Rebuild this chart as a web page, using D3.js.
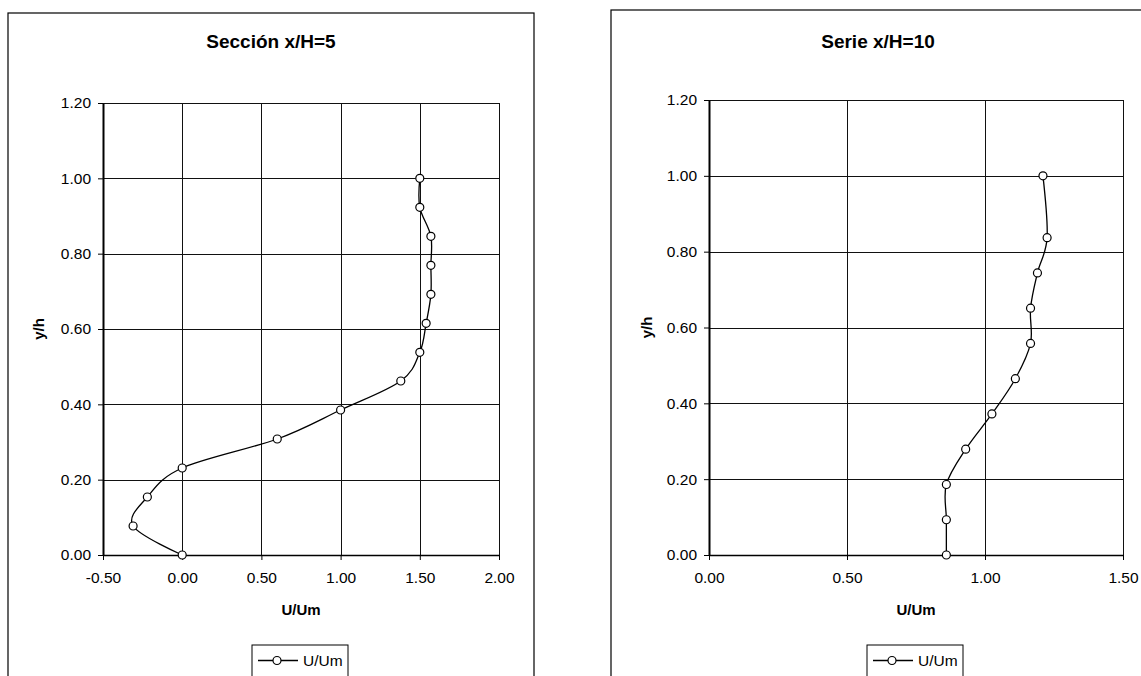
<!DOCTYPE html>
<html lang="es">
<head>
  <meta charset="UTF-8">
  <title>Perfiles U/Um</title>
  <script src="https://d3js.org/d3.v7.min.js"></script>
  <style>
    body {
      margin: 0;
      background: #fff;
      font-family: "Liberation Sans", Arial, sans-serif;
    }
    .chart-title {
      font-size: 19px;
      font-weight: bold;
      text-anchor: middle;
    }
    .axis-title {
      font-size: 15px;
      font-weight: bold;
      text-anchor: middle;
    }
    .axis text {
      font-size: 15.5px;
      font-family: "Liberation Sans", Arial, sans-serif;
      fill: #000;
    }
    .grid line {
      stroke: #111;
      stroke-width: 1;
      shape-rendering: crispEdges;
    }
    .legend-text {
      font-size: 15.5px;
    }
  </style>
</head>
<body>
  <div id="chart"></div>

  <script>
    // Sección x/H=5
    const leftTitle = "Sección x/H=5";
    const leftYh = [0.00, 0.077, 0.154, 0.231, 0.308, 0.385, 0.462, 0.538, 0.615, 0.692, 0.769, 0.846, 0.923, 1.00];
    const leftU = [0.00, -0.31, -0.22, 0.00, 0.60, 1.00, 1.38, 1.50, 1.54, 1.57, 1.57, 1.57, 1.50, 1.50];
    const leftXTicks = [-0.5, 0, 0.5, 1.0, 1.5, 2.0];

    // Serie x/H=10
    const rightTitle = "Serie x/H=10";
    const rightYh = [0.00, 0.093, 0.186, 0.279, 0.372, 0.465, 0.558, 0.651, 0.744, 0.837, 1.00];
    const rightU = [0.86, 0.86, 0.86, 0.93, 1.025, 1.11, 1.165, 1.165, 1.19, 1.225, 1.21];
    const rightXTicks = [0, 0.5, 1.0, 1.5];

    const yTicks = [0, 0.2, 0.4, 0.6, 0.8, 1.0, 1.2];
    const xLabel = "U/Um";
    const yLabel = "y/h";
    const seriesName = "U/Um";

    // format Excel : 2 décimales, tiret simple pour le signe moins
    const fmt = d => d.toFixed(2);

    const svg = d3.select("#chart").append("svg")
      .attr("width", 1141)
      .attr("height", 676);

    function drawPanel(p) {
      const g = svg.append("g");

      // cadre du graphique
      g.append("rect")
        .attr("x", p.box[0]).attr("y", p.box[1])
        .attr("width", p.box[2]).attr("height", p.box[3])
        .attr("fill", "none").attr("stroke", "#000").attr("stroke-width", 1.2);

      g.append("text")
        .attr("class", "chart-title")
        .attr("x", p.titleX).attr("y", 48)
        .text(p.title);

      const x = d3.scaleLinear().domain(p.xDomain).range([p.left, p.right]);
      const y = d3.scaleLinear().domain([0, 1.2]).range([p.bottom, p.top]);

      // grille
      const grid = g.append("g").attr("class", "grid");
      grid.selectAll(".h").data(yTicks).enter().append("line")
        .attr("x1", p.left).attr("x2", p.right)
        .attr("y1", d => Math.round(y(d)) + 0.5).attr("y2", d => Math.round(y(d)) + 0.5);
      grid.selectAll(".v").data(p.xTicks).enter().append("line")
        .attr("x1", d => Math.round(x(d)) + 0.5).attr("x2", d => Math.round(x(d)) + 0.5)
        .attr("y1", p.top).attr("y2", p.bottom);

      g.append("g")
        .attr("class", "axis")
        .attr("transform", "translate(" + p.left + ",0)")
        .call(d3.axisLeft(y).tickValues(yTicks).tickFormat(fmt)
          .tickSize(5).tickSizeOuter(0).tickPadding(7))
        .call(a => a.select(".domain").attr("stroke-width", 2));

      g.append("g")
        .attr("class", "axis")
        .attr("transform", "translate(0," + p.bottom + ")")
        .call(d3.axisBottom(x).tickValues(p.xTicks).tickFormat(fmt)
          .tickSize(5).tickSizeOuter(0).tickPadding(12))
        .call(a => a.select(".domain").attr("stroke-width", 1.5));

      g.append("text")
        .attr("class", "axis-title")
        .attr("x", (p.left + p.right) / 2).attr("y", 615)
        .text(xLabel);

      g.append("text")
        .attr("class", "axis-title")
        .attr("transform", "translate(" + p.yTitleX + "," + (p.top + p.bottom) / 2 + ") rotate(-90)")
        .text(yLabel);

      const pts = p.u.map((v, i) => [v, p.yh[i]]);

      const line = d3.line()
        .x(d => x(d[0]))
        .y(d => y(d[1]))
        .curve(d3.curveCardinal.tension(0));

      g.append("path")
        .datum(pts)
        .attr("fill", "none")
        .attr("stroke", "#000")
        .attr("stroke-width", 1.3)
        .attr("d", line);

      g.selectAll(".pt").data(pts).enter().append("circle")
        .attr("cx", d => x(d[0]))
        .attr("cy", d => y(d[1]))
        .attr("r", 4)
        .attr("fill", "#fff")
        .attr("stroke", "#000")
        .attr("stroke-width", 1.2);

      // légende
      const lg = g.append("g").attr("transform", "translate(" + p.legendX + ",645)");
      lg.append("rect")
        .attr("width", 96).attr("height", 32)
        .attr("fill", "#fff").attr("stroke", "#000").attr("stroke-width", 1);
      lg.append("line")
        .attr("x1", 6).attr("x2", 46).attr("y1", 15.5).attr("y2", 15.5)
        .attr("stroke", "#000").attr("stroke-width", 1.3);
      lg.append("circle")
        .attr("cx", 25).attr("cy", 15.5).attr("r", 4)
        .attr("fill", "#fff").attr("stroke", "#000").attr("stroke-width", 1.2);
      lg.append("text")
        .attr("class", "legend-text")
        .attr("x", 51).attr("y", 21)
        .text(seriesName);
    }

    drawPanel({
      title: leftTitle, titleX: 271,
      box: [8, 13, 526, 700],
      left: 103, right: 499, top: 103, bottom: 555,
      xDomain: [-0.5, 2.0], xTicks: leftXTicks,
      u: leftU, yh: leftYh,
      yTitleX: 44, legendX: 252
    });

    drawPanel({
      title: rightTitle, titleX: 878,
      box: [611, 10, 600, 700],
      left: 709, right: 1123, top: 100, bottom: 555,
      xDomain: [0, 1.5], xTicks: rightXTicks,
      u: rightU, yh: rightYh,
      yTitleX: 652, legendX: 867
    });
  </script>
</body>
</html>
